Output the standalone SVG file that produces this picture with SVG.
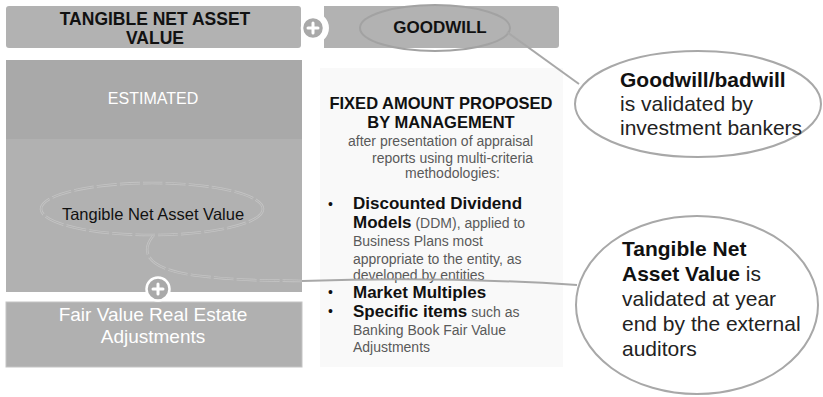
<svg xmlns="http://www.w3.org/2000/svg" width="823" height="397" viewBox="0 0 823 397">
<style>
.box{fill:#b2b2b2}
.plus{fill:#a9a9a9;stroke:#ffffff;stroke-width:2.5}
.pl{stroke:#ffffff;stroke-width:3;stroke-linecap:round}
.call{fill:#ffffff;stroke:#a8a8a8;stroke-width:2}
.hdr{font-family:"Liberation Sans",Arial,sans-serif;font-weight:bold;fill:#111}
.w{font-family:"Liberation Sans",Arial,sans-serif;fill:#ffffff}
.t{font-family:"Liberation Sans",Arial,sans-serif}
.b{font-weight:bold;fill:#111}
.r{fill:#5a5a5a;font-size:14px}
.c{font-family:"Liberation Sans",Arial,sans-serif;font-size:21px;fill:#222}
.dbl{fill:none;stroke:#c4c4c4;stroke-width:2.6;stroke-dasharray:20 3}
.dbi{fill:none;stroke:#b1b1b1;stroke-width:1}
.conn{fill:none;stroke:#a8a8a8;stroke-width:2}
</style>

<g id="tnav-header">
<rect x="6" y="6" width="295" height="42" rx="3" class="box"/>
<text class="hdr" font-size="17.5" text-anchor="middle"><tspan x="155" y="25">TANGIBLE NET ASSET</tspan><tspan x="155" y="44">VALUE</tspan></text>
</g>

<g id="goodwill-header">
<path class="box" d="M324 6 H556 a3 3 0 0 1 3 3 V45 a3 3 0 0 1 -3 3 H324 V39.6 A16 16 0 0 0 324 16.4 Z"/>
<ellipse cx="435" cy="28" rx="75" ry="23" fill="none" stroke="#a2a2a2" stroke-width="2"/>
<text class="hdr" font-size="17" text-anchor="middle" x="440" y="33">GOODWILL</text>
</g>

<g id="plus-top">
<circle cx="313" cy="28" r="11" class="plus"/>
<path class="pl" d="M308 28 H318 M313 23 V33"/>
</g>

<g id="estimated-box">
<rect x="6" y="60" width="296" height="79" fill="#a9a9a9"/>
<rect x="6" y="139" width="296" height="153" fill="#b1b1b1"/>
<text class="w" font-size="16" text-anchor="middle" x="153" y="104">ESTIMATED</text>
<ellipse cx="152" cy="209" rx="111" ry="26" class="dbl"/>
<ellipse cx="152" cy="209" rx="111" ry="26" class="dbi"/>
<text class="t" font-size="16.5" fill="#111" text-anchor="middle" x="153" y="220">Tangible Net Asset Value</text>
</g>

<g id="fair-value-box">
<rect x="6" y="302" width="296" height="65" fill="#b0b0b0" stroke="#c4c4c4" stroke-width="1"/>
<text class="w" font-size="19" text-anchor="middle"><tspan x="153" y="321">Fair Value Real Estate</tspan><tspan x="153" y="343">Adjustments</tspan></text>
</g>

<g id="plus-bottom">
<circle cx="158" cy="289" r="11.5" class="plus" fill="#adadad"/>
<path class="pl" d="M153 289 H163 M158 284 V294"/>
</g>

<g id="management-panel">
<rect x="320" y="68" width="243" height="299" fill="#f9f9f9"/>
<text class="hdr" font-size="16.5" text-anchor="middle"><tspan x="441" y="109">FIXED AMOUNT PROPOSED</tspan><tspan x="441" y="128">BY MANAGEMENT</tspan></text>
<text class="t r"><tspan x="348" y="146">after presentation of appraisal</tspan><tspan x="372" y="163">reports using multi-criteria</tspan><tspan x="405" y="178">methodologies:</tspan></text>
<text class="t" font-size="14" fill="#111"><tspan x="328" y="209">•</tspan><tspan x="328" y="297">•</tspan><tspan x="328" y="316">•</tspan></text>
<text class="t"><tspan class="b" font-size="17" x="353" y="209">Discounted Dividend</tspan><tspan class="b" font-size="17" x="353" y="228">Models</tspan><tspan class="r"> (DDM), applied to</tspan><tspan class="r" x="353" y="246">Business Plans most</tspan><tspan class="r" x="353" y="264">appropriate to the entity, as</tspan><tspan class="r" x="353" y="280">developed by entities</tspan><tspan class="b" font-size="17" x="353" y="298">Market Multiples</tspan><tspan class="b" font-size="17" x="353" y="317">Specific items</tspan><tspan class="r"> such as</tspan><tspan class="r" x="353" y="335">Banking Book Fair Value</tspan><tspan class="r" x="353" y="352">Adjustments</tspan></text>
</g>

<g id="connectors">
<path class="dbl" d="M153 236 C140 252 146 270 200 276 S280 280 302 281"/>
<path class="dbi" d="M153 236 C140 252 146 270 200 276 S280 280 302 281"/>
<path class="conn" d="M302 281 Q440 276 577 285"/>
<path class="conn" d="M507 32 L579 84"/>
</g>

<g id="goodwill-callout">
<ellipse cx="698" cy="104" rx="123" ry="53" class="call"/>
<text class="c"><tspan x="620" y="87" font-weight="bold" fill="#111">Goodwill/badwill</tspan><tspan x="620" y="111">is validated by</tspan><tspan x="620" y="135">investment bankers</tspan></text>
</g>

<g id="tnav-callout">
<ellipse cx="697" cy="305" rx="121" ry="89" class="call"/>
<text class="c"><tspan x="622" y="256" font-weight="bold" fill="#111">Tangible Net</tspan><tspan x="622" y="281" font-weight="bold" fill="#111">Asset Value</tspan><tspan> is</tspan><tspan x="622" y="306">validated at year</tspan><tspan x="622" y="331">end by the external</tspan><tspan x="622" y="356">auditors</tspan></text>
</g>
</svg>
